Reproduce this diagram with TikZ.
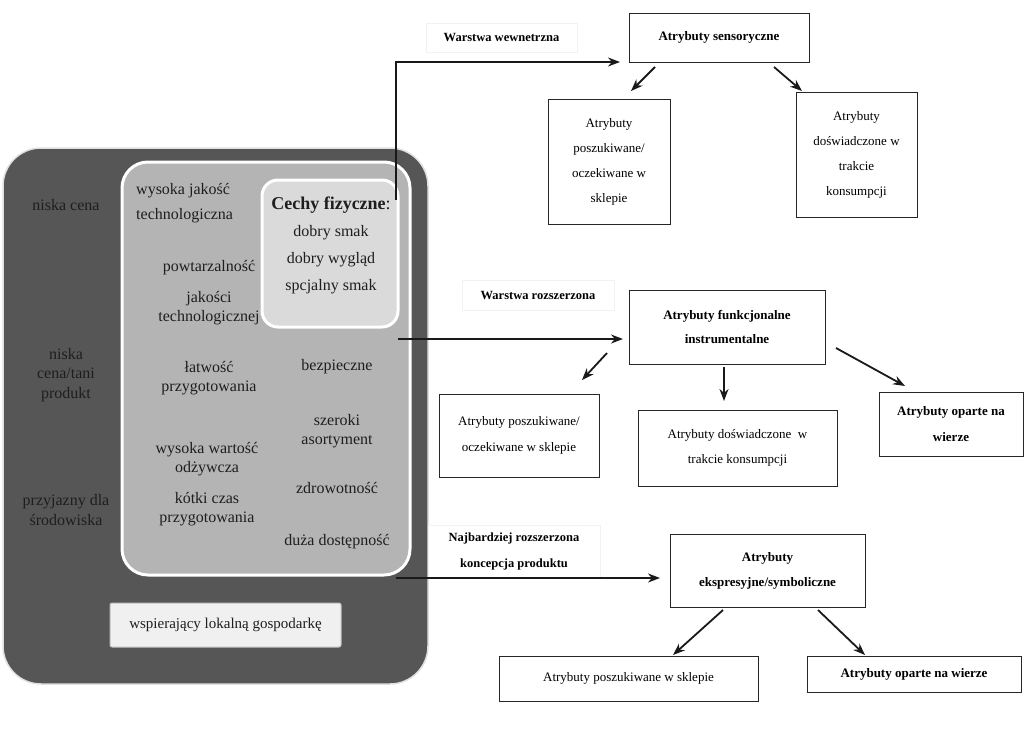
\documentclass[tikz,border=0pt]{standalone}
\usepackage{fontspec}
\setmainfont{Liberation Serif}
\usetikzlibrary{arrows.meta}

\definecolor{ciemny}{RGB}{86,86,86}
\definecolor{sredni}{RGB}{180,180,180}
\definecolor{jasny}{RGB}{218,218,218}
\definecolor{tekst}{RGB}{30,30,30}

\begin{document}
\begin{tikzpicture}[x=1pt,y=-1pt]
            \useasboundingbox (0,0) rectangle (1024,747);

            % warstwy produktu
            \begin{scope}[every node/.style={inner sep=0pt,outer sep=0pt,text=tekst,font=\fontsize{15}{19}\selectfont}]
                \node (outer) [fill=ciemny, draw=black!12, line width=1.5pt, rounded corners=38pt,
                               minimum width=425pt, minimum height=536pt] at (215.5,416) {};
                \node (mid) [fill=sredni, draw=white, line width=3pt, rounded corners=26pt,
                             minimum width=288pt, minimum height=413pt] at (266,368.5) {};
                \node (fiz) [fill=jasny, draw=white, line width=3pt, rounded corners=16pt,
                             minimum width=136pt, minimum height=147pt] at (330,253.5) {};
                \node (lokal) [fill=black!6, draw=black!25, line width=1pt, rounded corners=2pt,
                               minimum width=231pt, minimum height=44pt] at (225.5,625) {wspierający lokalną gospodarkę};
            \end{scope}

            \begin{scope}[every node/.style={text=tekst,align=center,inner sep=0pt,font=\fontsize{16}{19.5}\selectfont}]
                \node (cena) at (66,205) {niska cena};
                \node (tani) at (66,375) {niska\\cena/tani\\produkt};
                \node (srod) at (66,510) {przyjazny dla\\środowiska};
                \node (jakosc) [align=left, anchor=west] at (136,203) {wysoka jakość\\[5pt]technologiczna};
                \node (cechy) [font=\fontsize{16}{27}\selectfont] at (331,245) {{\fontsize{18}{27}\selectfont\textbf{Cechy fizyczne}:}\\dobry smak\\dobry wygląd\\spcjalny smak};
                \node (powt) at (209,268) {powtarzalność};
                \node (jtech) at (209,308) {jakości\\technologicznej};
                \node (latw) at (209,378) {łatwość\\przygotowania};
                \node (bezp) at (337,367) {bezpieczne};
                \node (asort) at (337,431) {szeroki\\asortyment};
                \node (odzyw) at (207,459) {wysoka wartość\\odżywcza};
                \node (czas) at (207,509) {kótki czas\\przygotowania};
                \node (zdrow) at (337,488) {zdrowotność};
                \node (dost) at (337,542) {duża dostępność};
            \end{scope}

            % etykiety warstw
            \begin{scope}[every node/.style={draw=black!5,fill=white,align=center,inner sep=0pt,outer sep=0pt,
                          font=\bfseries\fontsize{12.5}{26}\selectfont}]
                \node (wew) [minimum width=151pt, minimum height=29pt] at (501.5,37.5) {Warstwa wewnetrzna};
                \node (rozsz) [minimum width=152pt, minimum height=30pt] at (538,295) {Warstwa rozszerzona};
                \node (najb) [minimum width=172pt, minimum height=53pt] at (514,551.5) {Najbardziej rozszerzona\\koncepcja produktu};
            \end{scope}

            % atrybuty
            \begin{scope}[every node/.style={draw=black!85,fill=white,line width=1pt,align=center,inner sep=0pt,outer sep=0pt,
                          font=\fontsize{13}{25}\selectfont}]
                \node (sens) [minimum width=180pt, minimum height=49pt, font=\bfseries\fontsize{13}{25}\selectfont] at (719,37.5) {Atrybuty sensoryczne};
                \node (posz) [minimum width=122pt, minimum height=125pt] at (609,161.5) {Atrybuty\\poszukiwane/\\oczekiwane w\\sklepie};
                \node (dosw) [minimum width=121pt, minimum height=125pt] at (856.5,154.5) {Atrybuty\\doświadczone w\\trakcie\\konsumpcji};

                \node (func) [minimum width=196pt, minimum height=74pt, font=\bfseries\fontsize{13}{24}\selectfont] at (727,327) {Atrybuty funkcjonalne\\instrumentalne};
                \node (poszM) [minimum width=160pt, minimum height=83pt, font=\fontsize{13}{26}\selectfont] at (519,435.5) {Atrybuty poszukiwane/\\oczekiwane w sklepie};
                \node (doswM) [minimum width=199pt, minimum height=76pt] at (737.5,448) {Atrybuty doświadczone\ \ w\\trakcie konsumpcji};
                \node (wiaraM) [minimum width=144pt, minimum height=64pt, font=\bfseries\fontsize{13}{26}\selectfont] at (951,424) {Atrybuty oparte na\\wierze};

                \node (eksp) [minimum width=195pt, minimum height=73pt, font=\bfseries\fontsize{13}{25}\selectfont] at (767.5,570.5) {Atrybuty\\ekspresyjne/symboliczne};
                \node (poszB) [minimum width=259pt, minimum height=45pt] at (628.5,678.5) {Atrybuty poszukiwane w sklepie};
                \node (wiaraB) [minimum width=214pt, minimum height=36pt, font=\bfseries\fontsize{13}{25}\selectfont] at (914,674) {Atrybuty oparte na wierze};
            \end{scope}

            \begin{scope}[>={Stealth[length=12pt,width=9pt]},
                          every edge/.style={draw=black!90,line width=1.8pt}]
                \draw [->,draw=black!90,line width=1.8pt] ([xshift=-14pt,yshift=-38pt]mid.north east) |- ([xshift=-9pt]sens.south west);
                \path [->] ([xshift=-12pt,yshift=-177pt]mid.north east) edge ([xshift=-6pt,yshift=25pt]func.south west);
                \path [->] ([xshift=-32pt,yshift=-430pt]outer.north east) edge ([xshift=-10pt,yshift=29pt]eksp.south west);

                \path [->] ([xshift=26pt,yshift=-5pt]sens.south west) edge ([xshift=83pt,yshift=8pt]posz.north west);
                \path [->] ([xshift=145pt,yshift=-5pt]sens.south west) edge ([xshift=6pt,yshift=1pt]dosw.north west);

                \path [->] ([xshift=-22pt,yshift=11pt]func.south west) edge ([xshift=143pt,yshift=14pt]poszM.north west);
                \path [->] ([xshift=95pt,yshift=-3pt]func.south west) edge ([xshift=86pt,yshift=9pt]doswM.north west);
                \path [->] ([xshift=11pt,yshift=16pt]func.south east) edge ([xshift=26pt,yshift=6pt]wiaraM.north west);

                \path [->] ([xshift=53pt,yshift=-3pt]eksp.south west) edge ([xshift=174pt,yshift=1pt]poszB.north west);
                \path [->] ([xshift=148pt,yshift=-3pt]eksp.south west) edge ([xshift=58pt,yshift=1pt]wiaraB.north west);
            \end{scope}
        \end{tikzpicture}
\end{document}
